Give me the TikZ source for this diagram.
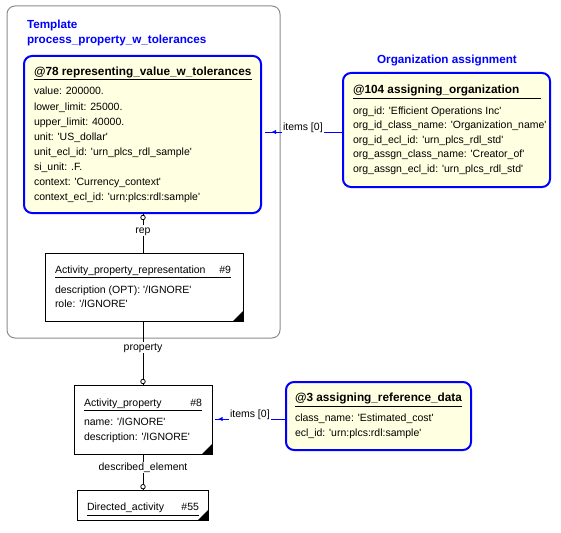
\documentclass[tikz,border=0pt]{standalone}
\usepackage{fontspec}
\setmainfont{Liberation Sans}
\usetikzlibrary{calc,arrows.meta,decorations.markings}
\definecolor{boxblue}{RGB}{0,0,255}
\definecolor{boxyellow}{RGB}{255,255,225}
\definecolor{tplgray}{RGB}{140,140,140}
\newcommand{\sq}{\textquotesingle}
\begin{document}
\begin{tikzpicture}[x=1pt,y=-1pt,
  every node/.style={inner sep=0pt, outer sep=0pt},
  tplbox/.style={draw=tplgray, line width=1pt, rounded corners=8pt, anchor=north west},
  instbox/.style={draw=boxblue, line width=2pt, fill=boxyellow, rounded corners=8pt, anchor=north west},
  entbox/.style={draw=black, line width=1pt, fill=white, anchor=north west},
  ttl/.style={anchor=base west, font=\fontsize{11.8}{13}\selectfont\bfseries},
  attr/.style={anchor=base west, font=\fontsize{10.5}{12}\selectfont},
  hashnum/.style={anchor=base east, font=\fontsize{10.5}{12}\selectfont},
  grp/.style={anchor=base west, text=boxblue, font=\fontsize{11.7}{13}\selectfont\bfseries},
  conn/.style={draw=black, line width=1pt},
  refconn/.style={boxblue, line width=1pt, postaction={decorate},
    decoration={markings, mark=at position #1 with {\arrow{Latex[length=4.5pt,width=4.5pt]}}}},
  lbl/.style={fill=white, inner sep=1pt, text height=7pt, text depth=2pt, anchor=base, font=\fontsize{10.5}{12}\selectfont},
  circ/.style={circle, draw=black, fill=white, line width=0.8pt, minimum size=4.5pt},
  uline/.style={draw=black, line width=1pt},
  corner/.style={fill=black},
]
\useasboundingbox (0,0) rectangle (561,532);

% template frame
\node[tplbox, minimum width=273pt, minimum height=332pt] (tpl) at (7,6) {};
\node[grp] (g1) at (27,29) {Template};
\node[grp] (g2) at (27,44) {process\_property\_w\_tolerances};
\node[grp, anchor=base] (g3) at (447,64) {Organization assignment};

% boxes
\node[instbox, minimum width=237pt, minimum height=157pt] (n78) at (24,56) {};
\node[instbox, minimum width=207pt, minimum height=114pt] (n104) at (343,73) {};
\node[entbox, minimum width=198pt, minimum height=68pt] (n9) at (45,253) {};
\node[entbox, minimum width=138pt, minimum height=69pt] (n8) at (74,385) {};
\node[instbox, minimum width=185pt, minimum height=68pt] (n3) at (286,382) {};
\node[entbox, minimum width=131pt, minimum height=30pt] (n55) at (77,490) {};

\fill[corner] (n9.south east) -- ++(-10,0) -- ++(10,-10) -- cycle;
\fill[corner] (n8.south east) -- ++(-10,0) -- ++(10,-10) -- cycle;
\fill[corner] (n55.south east) -- ++(-10,0) -- ++(10,-10) -- cycle;

% n78 text
\node[ttl] (t78) at (34,76) {@78 representing\_value\_w\_tolerances};
\draw[uline] (34,80) -- (252,80);
\node[attr] (a781) at (34,95) {value: 200000.};
\node[attr] (a782) at (34,110.1) {lower\_limit: 25000.};
\node[attr] (a783) at (34,125.2) {upper\_limit: 40000.};
\node[attr] (a784) at (34,140.3) {unit: \sq US\_dollar\sq};
\node[attr] (a785) at (34,155.4) {unit\_ecl\_id: \sq urn\_plcs\_rdl\_sample\sq};
\node[attr] (a786) at (34,170.5) {si\_unit: .F.};
\node[attr] (a787) at (34,185.6) {context: \sq Currency\_context\sq};
\node[attr] (a788) at (34,200.7) {context\_ecl\_id: \sq urn:plcs:rdl:sample\sq};

% n104 text
\node[ttl] (t104) at (353,94) {@104 assigning\_organization};
\draw[uline] (353,98.3) -- (541,98.3);
\node[attr] (a1041) at (353,114) {org\_id: \sq Efficient Operations Inc\sq};
\node[attr] (a1042) at (353,128.6) {org\_id\_class\_name: \sq Organization\_name\sq};
\node[attr] (a1043) at (353,143.2) {org\_id\_ecl\_id: \sq urn\_plcs\_rdl\_std\sq};
\node[attr] (a1044) at (353,157.8) {org\_assgn\_class\_name: \sq Creator\_of\sq};
\node[attr] (a1045) at (353,172.4) {org\_assgn\_ecl\_id: \sq urn\_plcs\_rdl\_std\sq};

% n9 text
\node[attr] (t9) at (55,273.3) {Activity\_property\_representation};
\node[hashnum] (h9) at (231,273.3) {\#9};
\draw[uline] (55,277) -- (231,277);
\node[attr] (a91) at (55,293.3) {description (OPT): \sq/IGNORE\sq};
\node[attr] (a92) at (55,307.3) {role: \sq/IGNORE\sq};

% n8 text
\node[attr] (t8) at (84,406) {Activity\_property};
\node[hashnum] (h8) at (202,406) {\#8};
\draw[uline] (84,410.3) -- (202,410.3);
\node[attr] (a81) at (84,425) {name: \sq/IGNORE\sq};
\node[attr] (a82) at (84,440) {description: \sq/IGNORE\sq};

% n3 text
\node[ttl] (t3) at (295,401.7) {@3 assigning\_reference\_data};
\draw[uline] (295,406) -- (462,406);
\node[attr] (a31) at (295,421.7) {class\_name: \sq Estimated\_cost\sq};
\node[attr] (a32) at (295,436) {ecl\_id: \sq urn:plcs:rdl:sample\sq};

% n55 text
\node[attr] (t55) at (87,510.7) {Directed\_activity};
\node[hashnum] (h55) at (199,510.7) {\#55};
\draw[uline] (87,515) -- (199,515);

% vertical connectors
\node[circ] (o1) at (143,217.5) {};
\draw[conn] (o1.north) -- (o1 |- n78.south);
\draw[conn] (o1.south) -- (o1 |- n9.north);
\node[lbl] (lrep) at (143,233.3) {rep};

\node[circ] (o2) at (143,381.5) {};
\draw[conn] (n9.south -| o2) -- (o2.north);
\draw[conn] (o2.south) -- (o2 |- n8.north);
\node[lbl] (lprop) at (143,350) {property};

\node[circ] (o3) at (143,486.7) {};
\draw[conn] (n8.south -| o3) -- (o3.north);
\draw[conn] (o3.south) -- (o3 |- n55.north);
\node[lbl] (ldesc) at (143,470) {described\_element};

% reference connectors
\coordinate (s1) at ([yshift=-2pt]n104.west);
\draw[refconn=-6.5pt] (s1) -- ($(s1 -| n78.east)+(4,0)$);
\node[lbl, anchor=base west] (li1) at (282,130.5) {items [0]};

\coordinate (s2) at ([yshift=-3pt]n3.west);
\draw[refconn=-3pt] (s2) -- ($(s2 -| n8.east)+(3,0)$);
\node[lbl, anchor=base west] (li2) at (229,417) {items [0]};
\end{tikzpicture}
\end{document}
